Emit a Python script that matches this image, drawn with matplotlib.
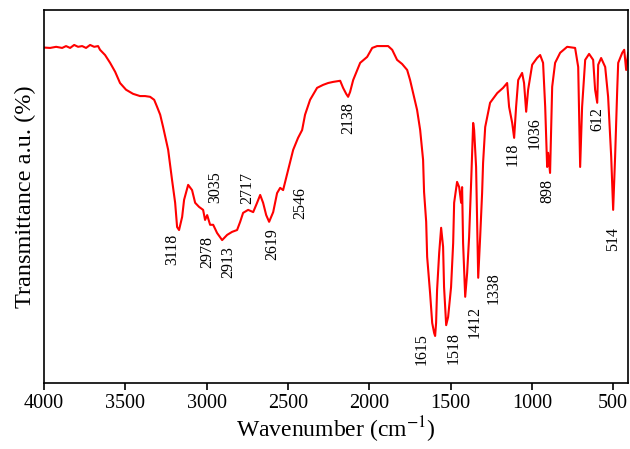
import matplotlib
matplotlib.use('Agg')
import matplotlib.pyplot as plt

# FTIR spectrum
wavenumber = [4000, 3963, 3926, 3889, 3865, 3840, 3815, 3791, 3766, 3742, 3717, 3692, 3668,
              3656, 3625, 3594, 3563, 3533, 3496, 3453, 3410, 3379, 3348, 3323, 3305, 3286,
              3268, 3250, 3237, 3225, 3213, 3194, 3182, 3170, 3151, 3139, 3114, 3090, 3071,
              3047, 3022, 3010, 2997, 2979, 2960, 2936, 2905, 2874, 2844, 2813, 2794, 2776,
              2745, 2714, 2690, 2671, 2653, 2634, 2616, 2591, 2567, 2548, 2530, 2511, 2499,
              2468, 2438, 2413, 2395, 2364, 2321, 2284, 2253, 2222, 2179, 2161, 2142, 2130,
              2118, 2099, 2056, 2013, 1982, 1952, 1884, 1859, 1829, 1798, 1767, 1749, 1730,
              1706, 1687, 1669, 1663, 1650, 1644, 1626, 1613, 1601, 1595, 1589, 1583, 1570,
              1558, 1546, 1540, 1527, 1515, 1497, 1484, 1478, 1460, 1447, 1435, 1429, 1423,
              1410, 1398, 1386, 1373, 1367, 1361, 1355, 1343, 1330, 1318, 1306, 1300, 1287,
              1257, 1213, 1177, 1152, 1140, 1121, 1109, 1097, 1084, 1060, 1048, 1035, 1023,
              998, 968, 949, 931, 918, 906, 900, 888, 875, 857, 826, 783, 734, 715, 703, 691,
              672, 648, 623, 611, 598, 592, 574, 549, 531, 512, 500, 488, 475, 469, 444, 432,
              420, 408]
transmittance = [89.9, 89.8, 90.1, 89.8, 90.3, 89.8, 90.6, 90.1, 90.3, 89.8, 90.6, 90.1, 90.3,
                 89.3, 87.9, 85.8, 83.4, 80.4, 78.6, 77.5, 76.9, 76.9, 76.7, 75.9, 74.0, 71.9,
                 68.6, 65.1, 62.5, 58.4, 54.4, 48.3, 41.8, 41.0, 44.5, 49.1, 53.1, 51.7, 48.3,
                 47.2, 46.4, 43.7, 45.0, 42.4, 42.4, 40.2, 38.3, 39.7, 40.5, 41.0, 43.2, 45.6,
                 46.4, 45.8, 48.3, 50.4, 48.3, 45.0, 43.2, 45.8, 50.9, 52.3, 51.7, 55.0, 57.1,
                 62.5, 65.7, 67.8, 71.9, 75.9, 79.1, 79.9, 80.4, 80.7, 81.0, 79.1, 77.5, 76.7,
                 78.0, 81.2, 85.8, 87.4, 89.8, 90.3, 90.3, 89.3, 86.6, 85.5, 83.9, 81.2, 77.7,
                 73.2, 67.8, 59.8, 51.2, 43.2, 33.8, 24.1, 16.1, 13.4, 12.6, 16.1, 24.9, 34.9,
                 41.6, 36.5, 25.7, 15.5, 17.7, 25.7, 37.5, 48.3, 53.9, 52.5, 48.3, 52.5, 37.5,
                 23.1, 29.5, 39.1, 54.4, 62.5, 69.7, 67.8, 57.9, 28.2, 39.1, 50.9, 59.0, 68.6,
                 75.1, 77.7, 79.1, 80.4, 74.0, 69.7, 65.7, 74.0, 81.2, 83.1, 80.4, 72.7, 78.6,
                 85.3, 87.1, 87.9, 85.8, 74.0, 57.9, 61.7, 56.3, 79.4, 85.8, 88.5, 90.1, 89.8,
                 84.7, 57.9, 74.0, 86.6, 88.2, 86.6, 78.6, 75.1, 85.3, 87.1, 84.7, 76.7, 60.6,
                 46.4, 60.6, 78.6, 85.8, 88.5, 89.3, 83.9, 88.5]

# peak annotations: text, x position (cm-1), y position
peak_text = ['3118', '2978', '2913', '3035', '2717', '2619', '2546', '2138', '1615', '1518',
             '1412', '1338', '118', '1036', '898', '612', '514']
peak_x = [3213, 2997, 2868, 2948, 2751, 2598, 2425, 2130, 1675, 1484,
          1355, 1238, 1121, 980, 906, 598, 500]
peak_y = [35.7, 35.1, 32.4, 52.5, 52.3, 37.3, 48.3, 71.0, 9.1, 9.4,
          16.4, 25.5, 61.4, 67.0, 51.5, 70.8, 38.6]

xticks = [4000, 3500, 3000, 2500, 2000, 1500, 1000, 500]

plt.rcParams['font.family'] = ['Liberation Serif', 'DejaVu Serif']
plt.rcParams['mathtext.fontset'] = 'stix'

fig = plt.figure(figsize=(6.3, 4.49), dpi=100)
ax = fig.add_axes([0.070, 0.147, 0.927, 0.831])

ax.plot(wavenumber, transmittance, color='red', linewidth=1.5)

for txt, x, y in zip(peak_text, peak_x, peak_y):
    ax.text(x, y, txt, rotation=90, ha='center', va='center', fontsize=11.5)

ax.set_xlim(4000, 408)
ax.set_ylim(0, 100)
ax.set_xticks(xticks)
ax.set_xticklabels([str(t) for t in xticks], fontsize=14.5)
ax.set_yticks([])
ax.tick_params(axis='x', direction='out', length=5, width=1.2, pad=3)
for s in ax.spines.values():
    s.set_linewidth(1.2)

ax.set_xlabel('Wavenumber (cm$^{-1}$)', fontsize=17, labelpad=1)
ax.set_ylabel('Transmittance a.u. (%)', fontsize=17.5, labelpad=6)

fig.savefig('out.png', dpi=100)
